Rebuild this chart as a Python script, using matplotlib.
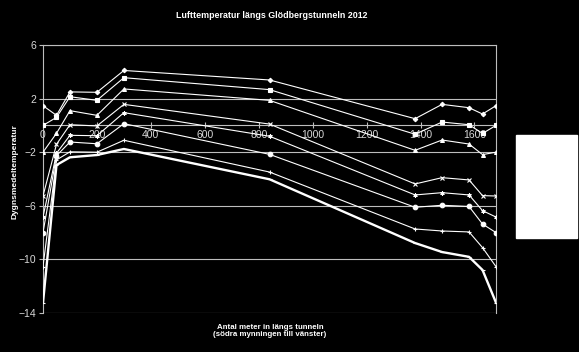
import numpy as np
import matplotlib.pyplot as plt
from matplotlib.patches import Rectangle

plt.rcParams['font.family'] = ['Liberation Sans', 'DejaVu Sans']

# meter in the tunnel
x = [0, 50, 100, 200, 300, 840, 1380, 1480, 1580, 1630, 1680]

# daily mean temperature, one series per day (top to bottom)
s1 = [1.47, 0.75, 2.5, 2.47, 4.1, 3.39, 0.5, 1.57, 1.32, 0.85, 1.47]
s2 = [0.0, 0.6, 2.14, 1.87, 3.56, 2.67, -0.66, 0.25, 0.05, -0.6, 0.0]
s3 = [-2.0, -0.59, 1.1, 0.75, 2.72, 1.87, -1.86, -1.09, -1.39, -2.18, -2.0]
s4 = [-5.27, -1.41, 0.05, -0.04, 1.57, 0.1, -4.37, -3.9, -4.07, -5.24, -5.27]
s5 = [-6.84, -2.08, -0.74, -0.77, 0.95, -0.81, -5.19, -5.02, -5.19, -6.36, -6.84]
s6 = [-8.0, -2.26, -1.24, -1.37, 0.13, -2.16, -6.11, -5.96, -6.05, -7.36, -8.0]
s7 = [-10.54, -2.58, -1.97, -2.0, -1.11, -3.48, -7.73, -7.88, -7.95, -9.12, -10.54]
s8 = [-13.23, -2.96, -2.38, -2.21, -1.76, -4.02, -8.78, -9.45, -9.81, -10.79, -13.23]

series = [s1, s2, s3, s4, s5, s6, s7, s8]
markers = ['D', 's', '^', 'x', (6, 2, 0), 'o', '+', '_']
msizes = [2.3, 3.2, 2.8, 3, 3, 3.3, 3, 3]
widths = [0.8, 0.8, 0.8, 0.8, 0.8, 0.8, 0.8, 1.7]

fig = plt.figure(figsize=(5.79, 3.52), dpi=100, facecolor='black')
ax = fig.add_axes([43/579, 1 - 313/352, 453/579, 268/352])
ax.set_facecolor('black')

grid = '#bdbdbd'
for yv in [6, 2, -2, -6, -10, -14]:
    ax.axhline(yv, color=grid, lw=0.8, zorder=1)

for s, m, ms, w in zip(series, markers, msizes, widths):
    ax.plot(x, s, color='white', lw=w, marker=m, ms=ms, mew=0.8,
            mfc='white', mec='white', zorder=3)

ax.set_xlim(0, 1680)
ax.set_ylim(-14, 6)
ax.set_yticks([6, 2, -2, -6, -10, -14])
ax.set_xticks([0, 200, 400, 600, 800, 1000, 1200, 1400, 1600])

for sp in ['top', 'right', 'left']:
    ax.spines[sp].set_color(grid)
    ax.spines[sp].set_linewidth(0.8)
ax.spines['bottom'].set_position(('data', 0))
ax.spines['bottom'].set_color(grid)
ax.spines['bottom'].set_linewidth(0.8)

ax.tick_params(axis='x', direction='inout', length=4, width=0.8, colors=grid,
               labelcolor='#d9d9d9', labelsize=7.5, pad=1)
ax.tick_params(axis='y', direction='out', length=3, width=0.8, colors=grid,
               labelcolor='#d9d9d9', labelsize=7.5, pad=2)

fig.text(272/579, 1 - 15/352, 'Lufttemperatur längs Glödbergstunneln 2012',
         color='white', fontsize=6.4, fontweight='bold', ha='center', va='center')
fig.text(15/579, 1 - 172/352, 'Dygnsmedeltemperatur', color='white',
         fontsize=6, fontweight='bold', rotation=90, ha='center', va='center')
fig.text(270/579, 1 - 331/352,
         'Antal meter in längs tunneln\n(södra mynningen till vänster)',
         color='white', fontsize=5.7, fontweight='bold', ha='center',
         va='center', linespacing=1.15)

# empty legend box
fig.patches.append(Rectangle((516/579, 1 - 238/352), 61/579, 103/352,
                             transform=fig.transFigure, facecolor='white',
                             edgecolor='white'))

fig.savefig('out.png', dpi=100, facecolor='black')
